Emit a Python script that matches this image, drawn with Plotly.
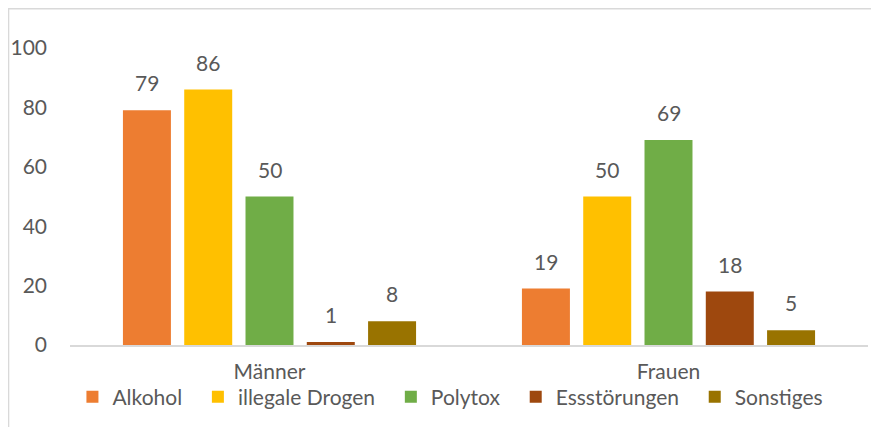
import plotly.graph_objects as go

categories = ["Männer", "Frauen"]
series_names = ["Alkohol", "illegale Drogen", "Polytox", "Essstörungen", "Sonstiges"]
alkohol = [79, 19]
illegale_drogen = [86, 50]
polytox = [50, 69]
essstoerungen = [1, 18]
sonstiges = [8, 5]
values = [alkohol, illegale_drogen, polytox, essstoerungen, sonstiges]
colors = ["#ED7D31", "#FFC000", "#70AD47", "#9E480E", "#997300"]
y_ticks = [0, 20, 40, 60, 80, 100]

FONT = "Lato, Open Sans, sans-serif"
TXT = "#595959"
FS = 21
BARGAP = 0.232

fig = go.Figure()
for name, vals, col in zip(series_names, values, colors):
    fig.add_trace(go.Bar(
        name=name + "\u00a0\u00a0", x=categories, y=vals,
        marker=dict(color=col, line=dict(width=0)),
    ))

# data labels above each bar, placed via the category axis
n = len(series_names)
slot = (1 - BARGAP) / n
annotations = []
for i, vals in enumerate(values):
    for j, v in enumerate(vals):
        annotations.append(dict(
            x=j + (i - (n - 1) / 2) * slot, y=v, xref="x", yref="y",
            text=str(v), showarrow=False, yanchor="bottom", yshift=13,
            font=dict(size=FS, color=TXT, family=FONT),
        ))

fig.update_layout(
    width=879, height=427,
    margin=dict(l=62, r=19, t=40, b=90, autoexpand=False),
    paper_bgcolor="white", plot_bgcolor="white",
    barmode="group", bargap=BARGAP, bargroupgap=0.217,
    font=dict(family=FONT, size=FS, color=TXT),
    showlegend=True,
    legend=dict(orientation="h", x=0.483, xanchor="center", y=-0.175, yanchor="middle",
                bgcolor="rgba(0,0,0,0)",
                font=dict(size=FS, color=TXT, family=FONT),
                traceorder="normal"),
    xaxis=dict(showline=True, linecolor="#D9D9D9", linewidth=1.5, ticks="", automargin=False,
               showgrid=False, tickfont=dict(size=FS, color=TXT), ticklabelstandoff=7),
    yaxis=dict(range=[0, 100], tickvals=y_ticks, showgrid=False, zeroline=False, automargin=False,
               showline=False, tickfont=dict(size=FS, color=TXT), ticklabelstandoff=22),
    annotations=annotations,
    shapes=[dict(type="rect", xref="paper", yref="paper", x0=-0.077, x1=1.2, y0=-0.5, y1=1.132,
                 line=dict(color="#D9D9D9", width=1.5), layer="below")],
)

fig.write_html("out.html")
